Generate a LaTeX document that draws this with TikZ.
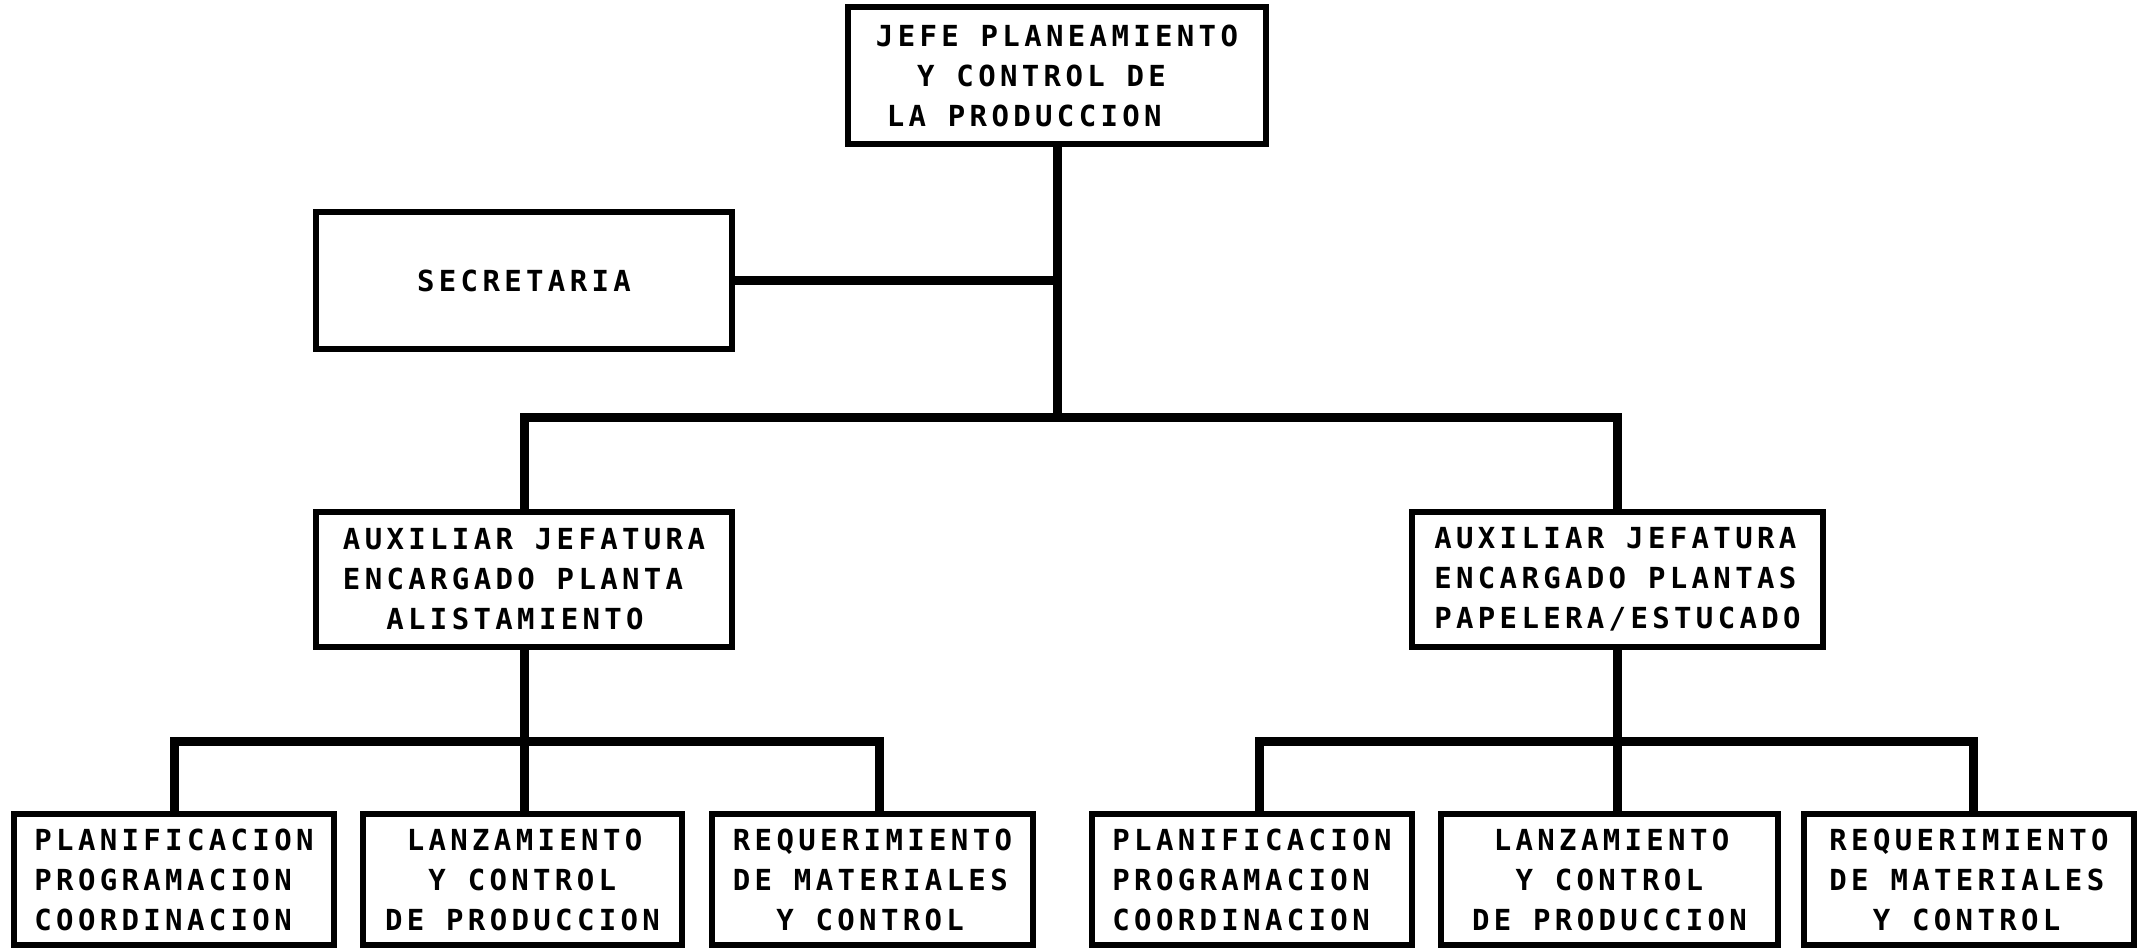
\documentclass[tikz,border=0pt]{standalone}
\usepackage{fontspec}
\newfontfamily\plotfont[LetterSpace=15]{DejaVu Sans Mono Bold}
\newlength\cw
\setlength\cw{21.7pt}
\begin{document}
\begin{tikzpicture}[x=1pt,y=-1pt,
  orgbox/.style={draw=black, line width=6pt, fill=white, align=left, inner sep=0pt,
    font={\plotfont\fontsize{29}{40}\selectfont}},
  link/.style={line width=9pt, line cap=rect}]
\useasboundingbox[fill=white] (0,0) rectangle (2148,949);

\node[orgbox, minimum width=418, minimum height=137] (top) at (1057,75.5)
  {JEFE PLANEAMIENTO\\\hspace*{1.9\cw}Y CONTROL DE\\\hspace*{0.5\cw}LA PRODUCCION};
\node[orgbox, minimum width=416, minimum height=137] (sec) at (524,280.5) {SECRETARIA};
\node[orgbox, minimum width=416, minimum height=135] (auxL) at (524,579.5)
  {AUXILIAR JEFATURA\\ENCARGADO PLANTA\\\hspace*{2\cw}ALISTAMIENTO};
\node[orgbox, minimum width=411, minimum height=135] (auxR) at (1617.5,579.5)
  {AUXILIAR JEFATURA\\ENCARGADO PLANTAS\\PAPELERA/ESTUCADO};

\node[orgbox, minimum width=320, minimum height=131] (L1) at (174,879.5)
  {PLANIFICACION\\PROGRAMACION\\COORDINACION};
\node[orgbox, minimum width=319, minimum height=131] (L2) at (522.5,879.5)
  {\hspace*{1\cw}LANZAMIENTO\\\hspace*{2\cw}Y CONTROL\\DE PRODUCCION};
\node[orgbox, minimum width=321, minimum height=131] (L3) at (872.5,879.5)
  {REQUERIMIENTO\\DE MATERIALES\\\hspace*{2\cw}Y CONTROL};
\node[orgbox, minimum width=320, minimum height=131] (R1) at (1252,879.5)
  {PLANIFICACION\\PROGRAMACION\\COORDINACION};
\node[orgbox, minimum width=337, minimum height=131] (R2) at (1609.5,879.5)
  {\hspace*{1\cw}LANZAMIENTO\\\hspace*{2\cw}Y CONTROL\\DE PRODUCCION};
\node[orgbox, minimum width=330, minimum height=131] (R3) at (1969,879.5)
  {REQUERIMIENTO\\DE MATERIALES\\\hspace*{2\cw}Y CONTROL};

\coordinate (j) at (top.south |- 0,418);
\coordinate (jl) at (auxL.south |- 0,741);
\coordinate (jr) at (auxR.south |- 0,741);
\coordinate (l3s) at (879,0);
\coordinate (r1s) at (1259,0);
\coordinate (r3s) at (1973,0);

\draw[link] (top.south) -- (j);
\draw[link] (sec.east) -- (sec.east -| top.south);
\draw[link] (auxL.north) |- (j) -| (auxR.north);
\draw[link] (auxL.south) -- (jl);
\draw[link] (L1.north) |- (jl) -| (l3s |- L3.north);
\draw[link] (jl) -- (jl |- L2.north);
\draw[link] (auxR.south) -- (jr);
\draw[link] (r1s |- R1.north) |- (jr) -| (r3s |- R3.north);
\draw[link] (jr) -- (jr |- R2.north);
\end{tikzpicture}
\end{document}
